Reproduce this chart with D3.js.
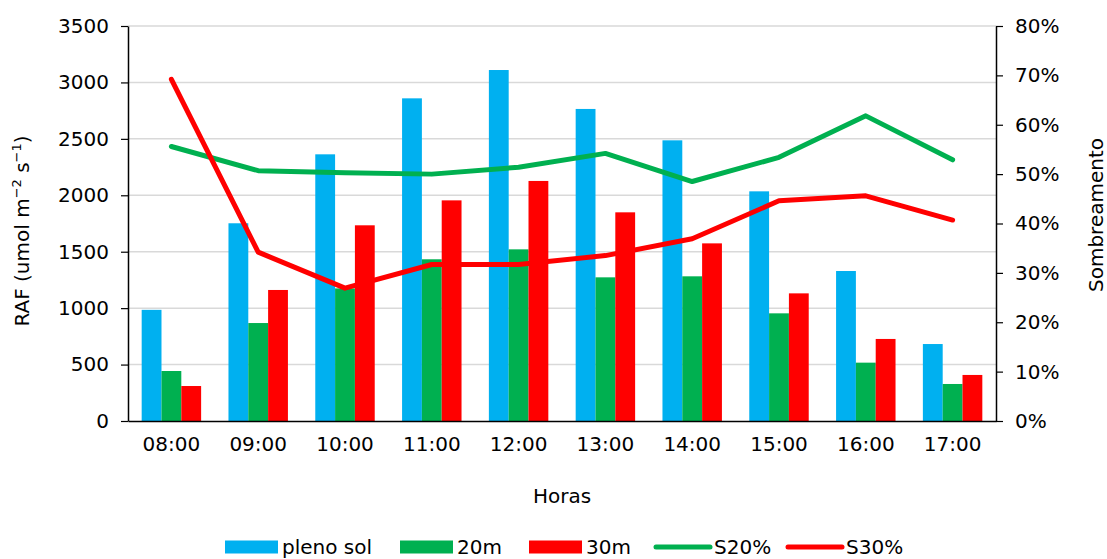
<!DOCTYPE html>
<html>
<head>
<meta charset="utf-8">
<script src="https://cdn.jsdelivr.net/npm/d3@7/dist/d3.min.js"></script>
<style>
  html, body { margin: 0; padding: 0; background: #fff; }
  svg { display: block; font-family: "DejaVu Sans", Verdana, sans-serif; }
</style>
</head>
<body>
<svg id="chart" width="1107" height="559"></svg>
<script>
// Hourly photosynthetically active radiation (RAF) and shading percentage
const horas = ["08:00", "09:00", "10:00", "11:00", "12:00", "13:00", "14:00", "15:00", "16:00", "17:00"];
const plenoSol = [985, 1752, 2363, 2859, 3110, 2765, 2487, 2035, 1329, 682];
const m20 = [443, 868, 1175, 1433, 1521, 1273, 1282, 954, 517, 328];
const m30 = [310, 1161, 1734, 1955, 2127, 1849, 1574, 1131, 727, 408];
const s20 = [55.6, 50.7, 50.3, 50.0, 51.4, 54.2, 48.5, 53.4, 61.8, 52.9];
const s30 = [69.2, 34.2, 26.9, 31.7, 31.7, 33.5, 36.9, 44.6, 45.6, 40.7];
const leftTicks = [0, 500, 1000, 1500, 2000, 2500, 3000, 3500];
const rightTicks = [0, 10, 20, 30, 40, 50, 60, 70, 80];

const barSeries = [
  { name: "pleno sol", values: plenoSol, color: "#00b0f0" },
  { name: "20m", values: m20, color: "#00b050" },
  { name: "30m", values: m30, color: "#ff0000" }
];
const lineSeries = [
  { name: "S20%", values: s20, color: "#00b050" },
  { name: "S30%", values: s30, color: "#ff0000" }
];

const svg = d3.select("#chart");
const plot = { left: 128, right: 996, top: 26, bottom: 421 };

const x = d3.scaleBand().domain(horas).range([plot.left, plot.right]).padding(0);
const xInner = d3.scaleBand().domain(barSeries.map(d => d.name))
  .range([0, x.bandwidth()]).paddingInner(0).paddingOuter(0.69);
const yL = d3.scaleLinear().domain([0, 3500]).range([plot.bottom, plot.top]);
const yR = d3.scaleLinear().domain([0, 80]).range([plot.bottom, plot.top]);

// horizontal gridlines
svg.append("g").selectAll("line").data(leftTicks.filter(d => d > 0)).join("line")
  .attr("x1", plot.left).attr("x2", plot.right)
  .attr("y1", d => yL(d)).attr("y2", d => yL(d))
  .attr("stroke", "#d9d9d9").attr("stroke-width", 1.5);

// bars
const groups = svg.append("g").selectAll("g").data(barSeries).join("g")
  .attr("fill", d => d.color);
groups.selectAll("rect").data(s => s.values.map((v, i) => ({ s: s.name, v, h: horas[i] })))
  .join("rect")
  .attr("x", d => x(d.h) + xInner(d.s))
  .attr("width", xInner.bandwidth())
  .attr("y", d => yL(d.v))
  .attr("height", d => yL(0) - yL(d.v));

// shading lines
const line = d3.line().x((d, i) => x(horas[i]) + x.bandwidth() / 2).y(d => yR(d));
svg.append("g").selectAll("path").data(lineSeries).join("path")
  .attr("d", d => line(d.values))
  .attr("fill", "none").attr("stroke", d => d.color)
  .attr("stroke-width", 5).attr("stroke-linecap", "round").attr("stroke-linejoin", "round");

// axes
const fontSize = "20px";
const leftAxis = svg.append("g").attr("transform", `translate(${plot.left},0)`)
  .call(d3.axisLeft(yL).tickValues(leftTicks).tickFormat(d3.format("d"))
    .tickSize(7).tickPadding(12).tickSizeOuter(0));
const rightAxis = svg.append("g").attr("transform", `translate(${plot.right},0)`)
  .call(d3.axisRight(yR).tickValues(rightTicks).tickFormat(d => d + "%")
    .tickSize(7).tickPadding(12).tickSizeOuter(0));
const bottomAxis = svg.append("g").attr("transform", `translate(0,${plot.bottom})`)
  .call(d3.axisBottom(x).tickSize(0).tickPadding(16).tickSizeOuter(0));

[leftAxis, rightAxis, bottomAxis].forEach(a => {
  a.select(".domain").attr("stroke", "#000").attr("stroke-width", 1.5);
  a.selectAll(".tick line").attr("stroke", "#000").attr("stroke-width", 1.2);
  a.selectAll("text").attr("font-size", fontSize).attr("fill", "#000")
    .attr("font-family", "DejaVu Sans, Verdana, sans-serif");
});

// axis titles
svg.append("text").attr("x", (plot.left + plot.right) / 2).attr("y", 503)
  .attr("text-anchor", "middle").attr("font-size", fontSize).text("Horas");

const yTitle = svg.append("text")
  .attr("transform", "translate(29,231) rotate(-90)")
  .attr("text-anchor", "middle").attr("font-size", fontSize);
yTitle.append("tspan").text("RAF (umol m");
yTitle.append("tspan").attr("font-size", "13px").attr("dy", -8).text("−2");
yTitle.append("tspan").attr("dy", 8).text(" s");
yTitle.append("tspan").attr("font-size", "13px").attr("dy", -8).text("−1");
yTitle.append("tspan").attr("dy", 8).text(")");

svg.append("text").attr("transform", "translate(1103,215) rotate(-90)")
  .attr("text-anchor", "middle").attr("font-size", fontSize).text("Sombreamento");

// legend
const legendY = 547;
const legendItems = [
  { name: "pleno sol", color: "#00b0f0", type: "bar", x: 225 },
  { name: "20m", color: "#00b050", type: "bar", x: 400 },
  { name: "30m", color: "#ff0000", type: "bar", x: 529 },
  { name: "S20%", color: "#00b050", type: "line", x: 656 },
  { name: "S30%", color: "#ff0000", type: "line", x: 788 }
];
const lg = svg.append("g").selectAll("g").data(legendItems).join("g")
  .attr("transform", d => `translate(${d.x},${legendY})`);
lg.filter(d => d.type === "bar").append("rect")
  .attr("x", 0).attr("y", -6.5).attr("width", 53).attr("height", 13).attr("fill", d => d.color);
lg.filter(d => d.type === "line").append("line")
  .attr("x1", 0).attr("x2", 54).attr("y1", 0).attr("y2", 0)
  .attr("stroke", d => d.color).attr("stroke-width", 5).attr("stroke-linecap", "round");
lg.append("text").attr("x", d => d.type === "bar" ? 57 : 58).attr("y", 7)
  .attr("font-size", fontSize).attr("fill", "#000").text(d => d.name);
</script>
</body>
</html>
